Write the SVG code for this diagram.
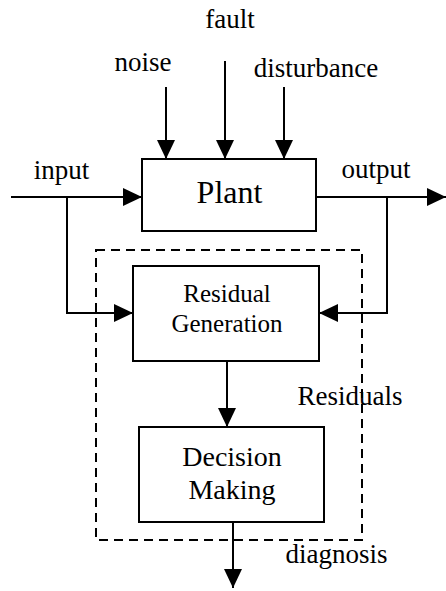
<svg xmlns="http://www.w3.org/2000/svg" width="446" height="591" viewBox="0 0 446 591">
<style>
text{font-family:"Liberation Serif","Times New Roman",serif;fill:#000}
.lbl{font-size:27px}
.box{fill:#fff;stroke:#000;stroke-width:2}
.ln{fill:none;stroke:#000;stroke-width:2}
.dash{fill:none;stroke:#000;stroke-width:2;stroke-dasharray:9,6}
</style>
<defs>
<marker id="ah" markerWidth="19" markerHeight="18" refX="19" refY="9" orient="auto" markerUnits="userSpaceOnUse">
<path d="M0,0 L19,9 L0,18 Z" fill="#000"/>
</marker>
</defs>
<g id="monitor">
<rect class="dash" x="96" y="250" width="266" height="290"/>
</g>
<g id="connectors">
<line class="ln" x1="166" y1="87" x2="166" y2="159" marker-end="url(#ah)"/>
<line class="ln" x1="225" y1="61" x2="225" y2="159" marker-end="url(#ah)"/>
<line class="ln" x1="284" y1="87" x2="284" y2="159" marker-end="url(#ah)"/>
<line class="ln" x1="11" y1="197" x2="142" y2="197" marker-end="url(#ah)"/>
<line class="ln" x1="316" y1="197" x2="446" y2="197" marker-end="url(#ah)"/>
<polyline class="ln" points="67,197 67,313 133,313" marker-end="url(#ah)"/>
<polyline class="ln" points="387,197 387,313 319,313" marker-end="url(#ah)"/>
<line class="ln" x1="227" y1="361" x2="227" y2="427" marker-end="url(#ah)"/>
<line class="ln" x1="233" y1="522" x2="233" y2="588" marker-end="url(#ah)"/>
</g>
<g id="plant">
<rect class="box" x="142" y="159" width="174" height="72"/>
<text x="229.5" y="203" font-size="32" text-anchor="middle">Plant</text>
</g>
<g id="residual-generation">
<rect class="box" x="133" y="266" width="186" height="95"/>
<text x="227" y="302" font-size="25" text-anchor="middle">Residual</text>
<text x="227" y="332" font-size="25" text-anchor="middle">Generation</text>
</g>
<g id="decision-making">
<rect class="box" x="139" y="427" width="185" height="95"/>
<text x="232" y="466" font-size="28" text-anchor="middle">Decision</text>
<text x="232" y="499" font-size="28" text-anchor="middle">Making</text>
</g>
<g id="labels">
<text class="lbl" x="230" y="28" text-anchor="middle">fault</text>
<text class="lbl" x="143" y="71" text-anchor="middle">noise</text>
<text class="lbl" x="316" y="77" text-anchor="middle">disturbance</text>
<text class="lbl" x="61.5" y="179" text-anchor="middle">input</text>
<text class="lbl" x="376" y="178" text-anchor="middle">output</text>
<text class="lbl" x="350" y="405" text-anchor="middle">Residuals</text>
<text class="lbl" x="336.5" y="563" text-anchor="middle">diagnosis</text>
</g>
</svg>
